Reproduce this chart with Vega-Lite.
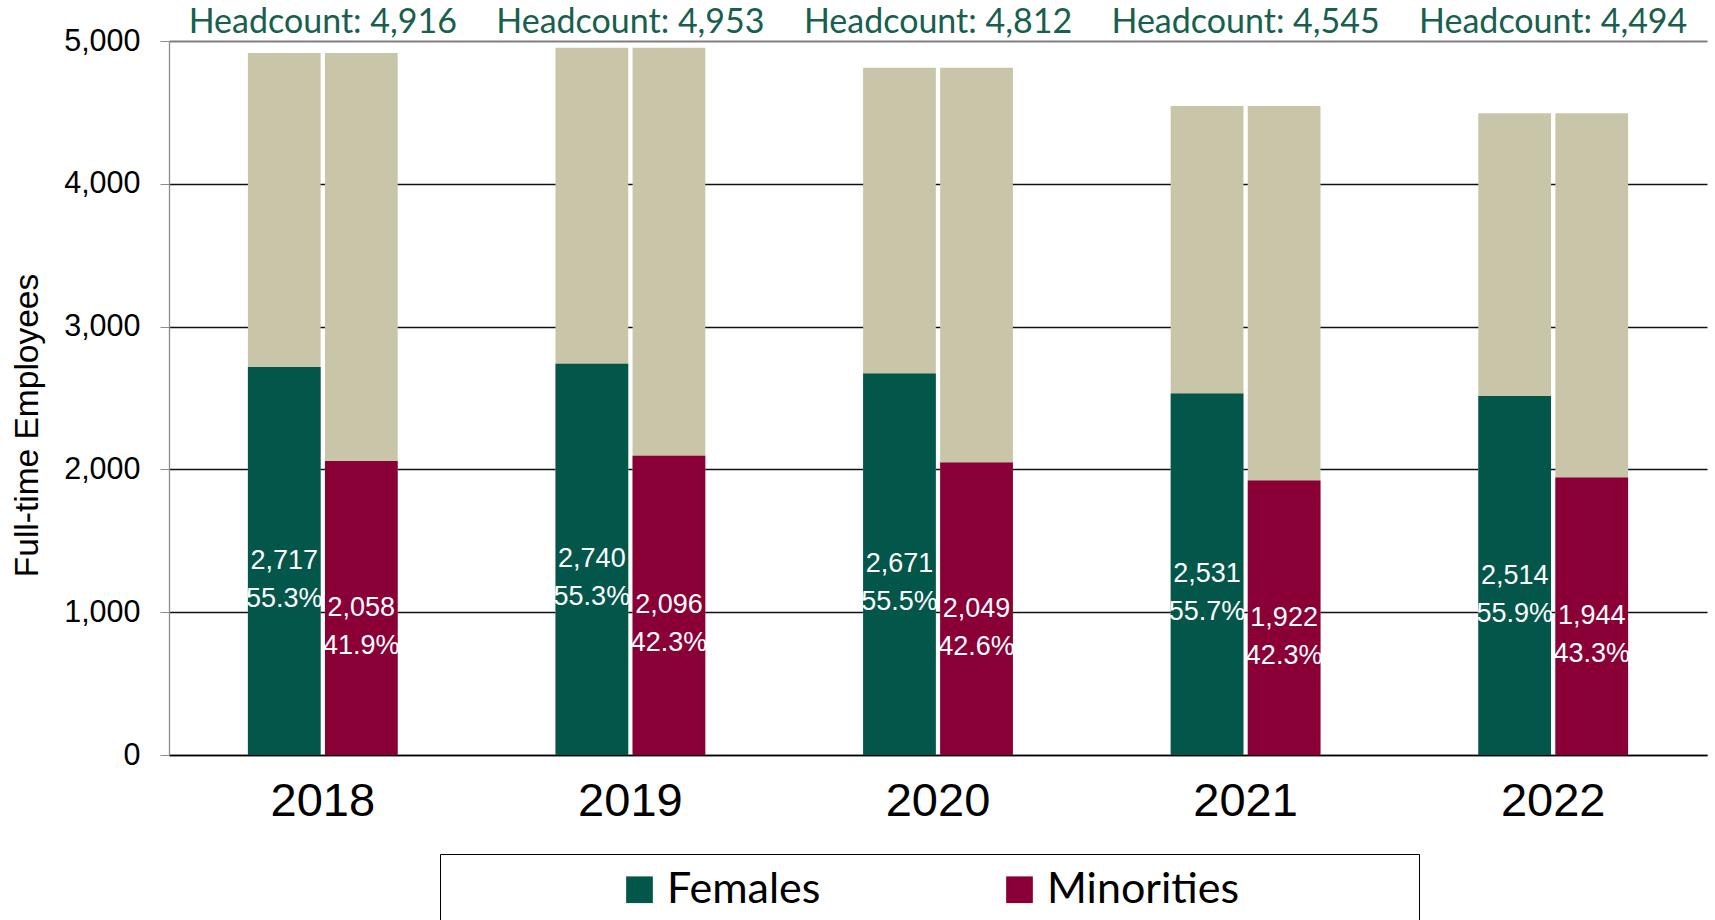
{
  "$schema": "https://vega.github.io/schema/vega-lite/v6.json",
  "width": 1538,
  "height": 714,
  "autosize": {"type": "none"},
  "padding": {"left": 169, "top": 41, "right": 8, "bottom": 165},
  "background": "#ffffff",
  "config": {
    "view": {"stroke": null},
    "font": "Liberation Sans"
  },
  "datasets": {
    "bars": [
      {"year": "2018", "group": "Females", "value": 2717, "pct": 0.553, "total": 4916},
      {"year": "2018", "group": "Minorities", "value": 2058, "pct": 0.419, "total": 4916},
      {"year": "2019", "group": "Females", "value": 2740, "pct": 0.553, "total": 4953},
      {"year": "2019", "group": "Minorities", "value": 2096, "pct": 0.423, "total": 4953},
      {"year": "2020", "group": "Females", "value": 2671, "pct": 0.555, "total": 4812},
      {"year": "2020", "group": "Minorities", "value": 2049, "pct": 0.426, "total": 4812},
      {"year": "2021", "group": "Females", "value": 2531, "pct": 0.557, "total": 4545},
      {"year": "2021", "group": "Minorities", "value": 1922, "pct": 0.423, "total": 4545},
      {"year": "2022", "group": "Females", "value": 2514, "pct": 0.559, "total": 4494},
      {"year": "2022", "group": "Minorities", "value": 1944, "pct": 0.433, "total": 4494}
    ],
    "heads": [
      {"year": "2018", "headcount": 4916},
      {"year": "2019", "headcount": 4953},
      {"year": "2020", "headcount": 4812},
      {"year": "2021", "headcount": 4545},
      {"year": "2022", "headcount": 4494}
    ]
  },
  "data": {"name": "bars"},
  "encoding": {
    "x": {
      "field": "year",
      "type": "nominal",
      "scale": {"paddingInner": 0.513, "paddingOuter": 0.2565},
      "axis": {
        "title": null,
        "labelAngle": 0,
        "labelFont": "Liberation Sans",
        "labelFontSize": 47,
        "labelColor": "#000000",
        "ticks": false,
        "tickSize": 0,
        "labelPadding": 60,
        "labelBaseline": "alphabetic",
        "domainColor": "#000000",
        "domainWidth": 1.3
      }
    }
  },
  "layer": [
    {
      "mark": {"type": "bar", "color": "#C9C5A8"},
      "encoding": {
        "xOffset": {"field": "group", "type": "nominal", "scale": {"paddingInner": 0.056, "paddingOuter": 0}},
        "y": {
          "field": "total",
          "type": "quantitative",
          "scale": {"domain": [0, 5000], "nice": false},
          "axis": {
            "title": "Full-time Employees",
            "titleFont": "Liberation Sans",
            "titleFontSize": 33.5,
            "titleFontWeight": "normal",
            "titleColor": "#000000",
            "titleAngle": -90,
            "titleBaseline": "alphabetic",
            "titleAlign": "center",
            "titleX": -132,
            "titleY": 384,
            "values": [0, 1000, 2000, 3000, 4000, 5000],
            "format": ",d",
            "labelFont": "Liberation Sans",
            "labelFontSize": 30.5,
            "labelColor": "#000000",
            "labelPadding": 20,
            "tickSize": 9,
            "tickColor": "#8c8c8c",
            "domainColor": "#8c8c8c",
            "domainWidth": 1.3,
            "grid": true,
            "gridColor": {"condition": {"test": "datum.value === 5000", "value": "#7f7f7f"}, "value": "#111111"},
            "gridWidth": {"condition": {"test": "datum.value === 5000", "value": 2}, "value": 1.3}
          }
        }
      }
    },
    {
      "mark": {"type": "bar"},
      "encoding": {
        "xOffset": {"field": "group", "type": "nominal"},
        "y": {"field": "value", "type": "quantitative"},
        "color": {
          "field": "group",
          "type": "nominal",
          "scale": {"domain": ["Females", "Minorities"], "range": ["#03574A", "#8A0036"]},
          "legend": {
            "orient": "none",
            "legendX": 271,
            "legendY": 813,
            "direction": "horizontal",
            "title": "\u00a0\u200b",
            "titleOrient": "left",
            "titleFontSize": 10,
            "titlePadding": 164,
            "strokeColor": "#000000",
            "padding": 14,
            "symbolType": "square",
            "symbolSize": 713,
            "symbolStrokeWidth": 0,
            "symbolOpacity": 1,
            "labelFont": "Lato",
            "labelFontSize": 43,
            "labelColor": "#000000",
            "labelOffset": 6,
            "labelLimit": 0,
            "columnPadding": 177,
            "labelExpr": "datum.label == 'Minorities' ? datum.label + '\u00a0\u00a0\u00a0\u00a0\u00a0\u00a0\u00a0\u00a0\u00a0\u00a0\u00a0\u00a0\u00a0\u00a0\u00a0\u200b' : datum.label"
          }
        }
      }
    },
    {
      "transform": [{"calculate": "datum.value / 2", "as": "mid"}],
      "mark": {"type": "text", "color": "#ffffff", "font": "Liberation Sans", "fontSize": 27, "baseline": "middle", "align": "center", "dy": 0},
      "encoding": {
        "xOffset": {"field": "group", "type": "nominal"},
        "y": {"field": "mid", "type": "quantitative"},
        "text": {"field": "value", "type": "quantitative", "format": ","}
      }
    },
    {
      "transform": [{"calculate": "datum.value / 2", "as": "mid"}],
      "mark": {"type": "text", "color": "#ffffff", "font": "Liberation Sans", "fontSize": 27, "baseline": "middle", "align": "center", "dy": 38},
      "encoding": {
        "xOffset": {"field": "group", "type": "nominal"},
        "y": {"field": "mid", "type": "quantitative"},
        "text": {"field": "pct", "type": "quantitative", "format": ".1%"}
      }
    },
    {
      "data": {"name": "heads"},
      "transform": [{"calculate": "'Headcount: ' + format(datum.headcount, ',')", "as": "label"}],
      "mark": {"type": "text", "color": "#17604F", "font": "Lato", "fontSize": 34, "baseline": "alphabetic", "align": "center", "dy": -8},
      "encoding": {
        "y": {"datum": 5000},
        "text": {"field": "label", "type": "nominal"}
      }
    }
  ]
}
